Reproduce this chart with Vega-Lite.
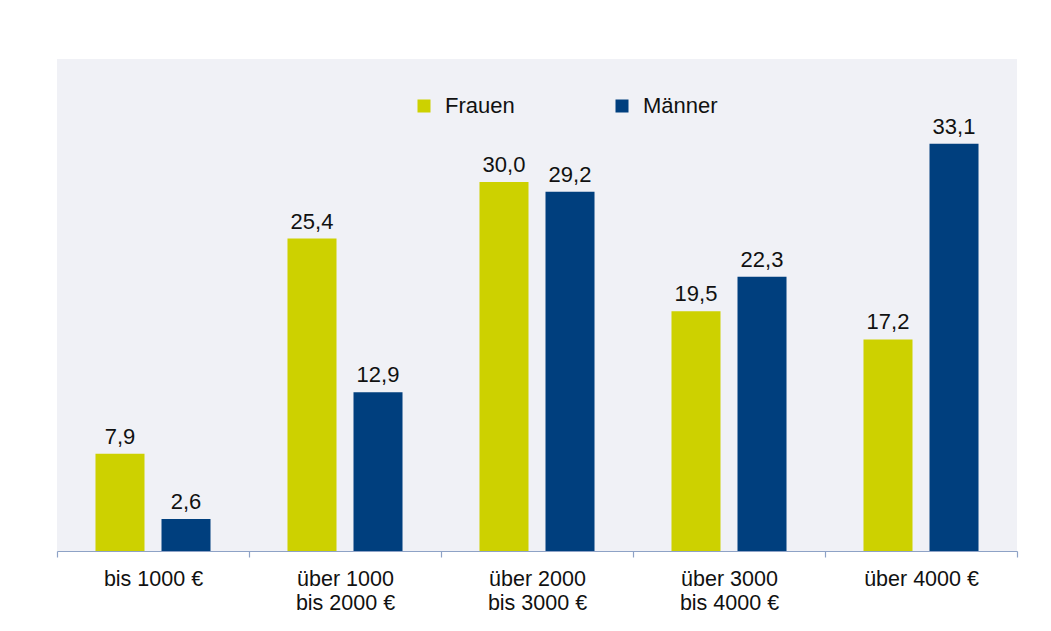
{
  "$schema": "https://vega.github.io/schema/vega-lite/v6.json",
  "width": 960,
  "height": 492,
  "autosize": {"type": "none"},
  "padding": {"left": 57, "top": 59, "right": 34, "bottom": 80},
  "background": "white",
  "config": {
    "locale": {"number": {"decimal": ",", "thousands": ".", "grouping": [3], "currency": ["", " €"]}},
    "view": {"fill": "#f0f1f6", "stroke": null},
    "font": "Liberation Sans"
  },
  "data": {
    "values": [
      {"kategorie": "bis 1000 €", "geschlecht": "Frauen", "anteil": 7.9},
      {"kategorie": "bis 1000 €", "geschlecht": "Männer", "anteil": 2.6},
      {"kategorie": "über 1000|bis 2000 €", "geschlecht": "Frauen", "anteil": 25.4},
      {"kategorie": "über 1000|bis 2000 €", "geschlecht": "Männer", "anteil": 12.9},
      {"kategorie": "über 2000|bis 3000 €", "geschlecht": "Frauen", "anteil": 30.0},
      {"kategorie": "über 2000|bis 3000 €", "geschlecht": "Männer", "anteil": 29.2},
      {"kategorie": "über 3000|bis 4000 €", "geschlecht": "Frauen", "anteil": 19.5},
      {"kategorie": "über 3000|bis 4000 €", "geschlecht": "Männer", "anteil": 22.3},
      {"kategorie": "über 4000 €", "geschlecht": "Frauen", "anteil": 17.2},
      {"kategorie": "über 4000 €", "geschlecht": "Männer", "anteil": 33.1}
    ]
  },
  "encoding": {
    "x": {
      "field": "kategorie",
      "type": "nominal",
      "sort": null,
      "scale": {"paddingInner": 0, "paddingOuter": 0},
      "axis": {
        "title": null,
        "labelAngle": 0,
        "labelExpr": "datum.value ? split(datum.value, '|') : ''",
        "labelFont": "Liberation Sans",
        "labelFontSize": 21.5,
        "labelColor": "#111111",
        "labelLineHeight": 24,
        "labelPadding": 11,
        "tickBand": "extent",
        "tickSize": 6,
        "tickColor": "#8ea2c6",
        "domainColor": "#8ea2c6",
        "domainWidth": 1.2,
        "tickWidth": 1.2,
        "grid": false
      }
    },
    "xOffset": {
      "field": "geschlecht",
      "type": "nominal",
      "scale": {"paddingInner": 0.2576, "paddingOuter": 0.583}
    },
    "y": {
      "field": "anteil",
      "type": "quantitative",
      "scale": {"domain": [0, 40], "nice": false},
      "axis": null
    }
  },
  "layer": [
    {
      "mark": {"type": "bar"},
      "encoding": {
        "color": {
          "field": "geschlecht",
          "type": "nominal",
          "scale": {"domain": ["Frauen", "Männer"], "range": ["#cdd100", "#003f7e"]},
          "legend": {
            "title": null,
            "orient": "none",
            "direction": "horizontal",
            "legendX": 356,
            "legendY": 36,
            "symbolType": "square",
            "symbolSize": 169,
            "symbolStrokeWidth": 0,
            "labelFont": "Liberation Sans",
            "labelFontSize": 22,
            "labelColor": "#111111",
            "labelOffset": 10,
            "columnPadding": 96
          }
        }
      }
    },
    {
      "mark": {"type": "text", "dy": -10, "baseline": "alphabetic", "fontSize": 22, "color": "#111111", "font": "Liberation Sans"},
      "encoding": {
        "text": {"field": "anteil", "type": "quantitative", "format": ".1f"}
      }
    }
  ]
}
